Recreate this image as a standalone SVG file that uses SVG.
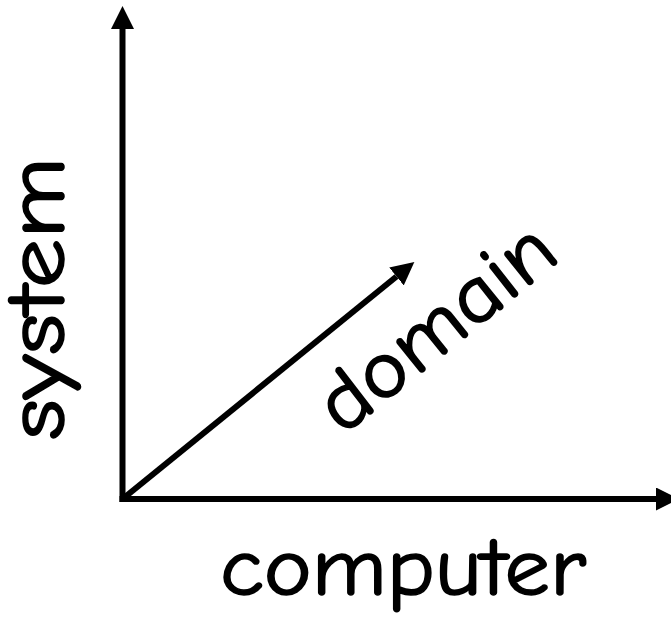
<svg xmlns="http://www.w3.org/2000/svg" width="671" height="619" viewBox="0 0 671 619">
<style>
.ax{stroke:#000;stroke-width:6;fill:none;stroke-linecap:square}
.lbl{font-family:"Comic Sans MS","Comic Neue",Lato,"DejaVu Sans",sans-serif;font-size:82px;fill:#000;stroke:#000;stroke-width:1.6px;stroke-linejoin:round}
</style>
<defs>
<marker id="ah" viewBox="0 0 23 23" refX="0" refY="11.5" markerWidth="23" markerHeight="23" markerUnits="userSpaceOnUse" orient="auto">
<path d="M0,0 L23,11.5 L0,23 Z" fill="#000"/>
</marker>
</defs>
<g id="connectors">
<line class="ax" x1="122.5" y1="499" x2="122.5" y2="29" marker-end="url(#ah)"/>
<line class="ax" x1="122.5" y1="499" x2="656" y2="499" marker-end="url(#ah)"/>
<line class="ax" style="stroke-linecap:butt" x1="122.5" y1="499" x2="396.5" y2="276.5" marker-end="url(#ah)"/>
</g>
<g id="computer"><text class="lbl" x="220" y="595" textLength="366" lengthAdjust="spacingAndGlyphs">computer</text></g>
<g id="system"><text class="lbl" transform="translate(64,440) rotate(-90)" textLength="283" lengthAdjust="spacingAndGlyphs">system</text></g>
<g id="domain"><text class="lbl" transform="translate(343,436) rotate(-39)" textLength="282" lengthAdjust="spacingAndGlyphs">domain</text></g>
</svg>
